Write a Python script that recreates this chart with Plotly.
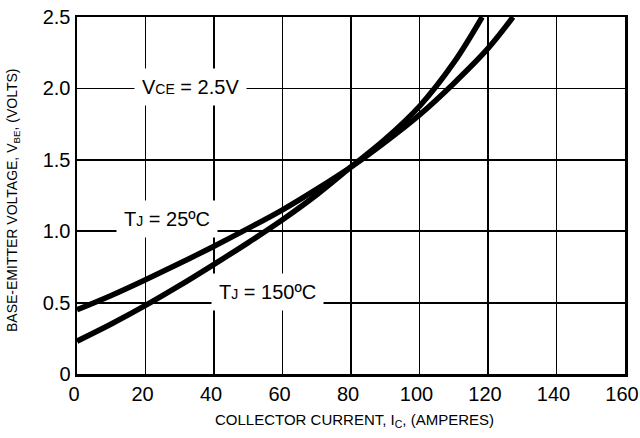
import plotly.graph_objects as go

# Collector current (A) and base-emitter voltage (V)
ic_25 = [0, 10, 20, 30, 40, 50, 60, 70, 80, 90, 100, 110, 120, 127.3]
vbe_25 = [0.45, 0.55, 0.66, 0.775, 0.895, 1.02, 1.15, 1.295, 1.45, 1.625, 1.815, 2.035, 2.28, 2.50]

ic_150 = [0, 10, 20, 30, 40, 50, 60, 70, 80, 90, 100, 110, 118.3]
vbe_150 = [0.23, 0.35, 0.48, 0.62, 0.768, 0.92, 1.08, 1.255, 1.45, 1.645, 1.875, 2.18, 2.50]

x_ticks = [0, 20, 40, 60, 80, 100, 120, 140, 160]
x_tick_text = ["0", "20", "40", "60", "80", "100", "120", "140", "160"]
y_ticks = [0, 0.5, 1.0, 1.5, 2.0, 2.5]
y_tick_text = ["0", "0.5", "1.0", "1.5", "2.0", "2.5"]

x_title = "COLLECTOR CURRENT, I<sub>C</sub>, (AMPERES)"
y_title = "BASE-EMITTER VOLTAGE, V<sub>BE</sub>, (VOLTS)"

FONT = "Liberation Sans, Arial, Helvetica, sans-serif"

fig = go.Figure()
fig.add_trace(go.Scatter(x=ic_25, y=vbe_25, mode="lines",
                         line=dict(color="black", width=5.5, shape="spline"),
                         showlegend=False, hoverinfo="skip"))
fig.add_trace(go.Scatter(x=ic_150, y=vbe_150, mode="lines",
                         line=dict(color="black", width=5.5, shape="spline"),
                         showlegend=False, hoverinfo="skip"))

ann_common = dict(showarrow=False, bgcolor="white", borderpad=7,
                  font=dict(family=FONT, size=20, color="black"))
fig.add_annotation(x=33, y=2.01, xref="x", yref="y",
                   text="V<span style='font-size:14px'>CE</span> = 2.5V", **ann_common)
fig.add_annotation(x=26.3, y=1.085, xref="x", yref="y",
                   text="T<span style='font-size:14px'>J</span> = 25ºC", **ann_common)
fig.add_annotation(x=55.5, y=0.575, xref="x", yref="y",
                   text="T<span style='font-size:14px'>J</span> = 150ºC", **ann_common)

# Axis titles as annotations for precise placement
fig.add_annotation(x=0.506, y=-0.129, xref="paper", yref="paper",
                   xanchor="center", yanchor="middle", showarrow=False,
                   text=x_title, font=dict(family=FONT, size=15, color="black"))
fig.add_annotation(x=-0.117, y=0.487, xref="paper", yref="paper",
                   xanchor="center", yanchor="middle", showarrow=False, textangle=-90,
                   text=y_title, font=dict(family=FONT, size=14, color="black"))

fig.update_xaxes(range=[0, 160], tickvals=x_ticks, ticktext=x_tick_text,
                 showgrid=True, gridcolor="black", gridwidth=1.8,
                 showline=True, linecolor="black", linewidth=2.5, mirror=True,
                 zeroline=False, ticks="", ticklen=0, automargin=False,
                 ticklabeloverflow="allow", ticklabelshift=-3,
                 tickfont=dict(family=FONT, size=20, color="black"))
fig.update_yaxes(range=[0, 2.5], tickvals=y_ticks, ticktext=y_tick_text,
                 showgrid=True, gridcolor="black", gridwidth=1.8,
                 showline=True, linecolor="black", linewidth=2.5, mirror=True,
                 zeroline=False, ticks="", ticklen=0, automargin=False,
                 ticklabeloverflow="allow",
                 tickfont=dict(family=FONT, size=20, color="black"))

fig.update_layout(width=640, height=438,
                  margin=dict(l=77, r=15, t=17, b=64),
                  paper_bgcolor="white", plot_bgcolor="white")

# Remove the browser's default body margin so the figure fills the window exactly.
fig.write_html("out.html",
               config={"displayModeBar": False, "staticPlot": True},
               post_script="document.body.style.margin='0';document.body.style.overflow='hidden';")
